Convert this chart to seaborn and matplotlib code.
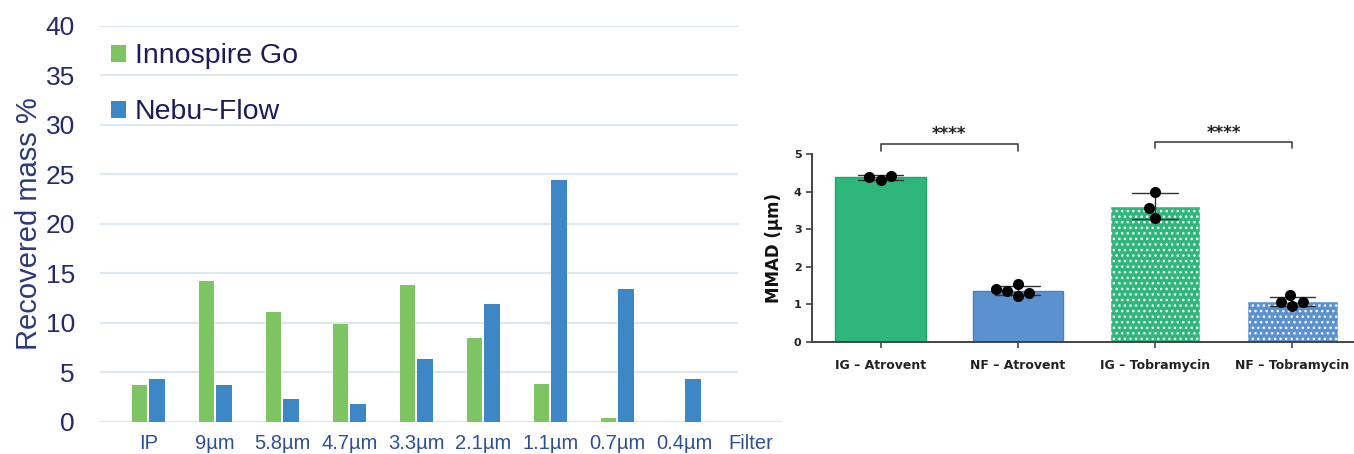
import numpy as np
import pandas as pd
import matplotlib
matplotlib.use("Agg")
import matplotlib.pyplot as plt
from matplotlib.patches import Rectangle
import seaborn as sns

# left panel: recovered mass per impactor stage
stages = ["IP", "9µm", "5.8µm", "4.7µm", "3.3µm", "2.1µm", "1.1µm", "0.7µm", "0.4µm", "Filter"]
innospire_go = [3.7, 14.2, 11.1, 9.9, 13.8, 8.5, 3.8, 0.4, 0.0, 0.0]
nebu_flow = [4.3, 3.7, 2.25, 1.75, 6.3, 11.9, 24.4, 13.4, 4.3, 0.0]
devices = ["Innospire Go", "Nebu~Flow"]
mass_ticks = [0, 5, 10, 15, 20, 25, 30, 35, 40]

# right panel: MMAD replicate measurements
groups = ["IG – Atrovent", "NF – Atrovent", "IG – Tobramycin", "NF – Tobramycin"]
ig_atrovent = [4.42, 4.31, 4.40]
nf_atrovent = [1.53, 1.35, 1.23, 1.30, 1.41]
ig_tobramycin = [3.98, 3.56, 3.31]
nf_tobramycin = [1.06, 0.96, 1.06, 1.25]
mmad_ticks = [0, 1, 2, 3, 4, 5]

sns.set_theme(style="white")
plt.rcParams["font.family"] = ["Liberation Sans", "DejaVu Sans"]
plt.rcParams["hatch.linewidth"] = 1.0

fig = plt.figure(figsize=(13.54, 4.54), dpi=100)
W, H = 1354, 454

def px_axes(x0, x1, y_top, y_bot):
    return fig.add_axes([x0 / W, 1 - y_bot / H, (x1 - x0) / W, (y_bot - y_top) / H])

# ---------------- left chart ----------------
ax1 = px_axes(100, 782, 25.7, 421.7)
df_mass = pd.DataFrame({
    "stage": stages * 2,
    "mass": innospire_go + nebu_flow,
    "device": [devices[0]] * len(stages) + [devices[1]] * len(stages),
})
sns.barplot(data=df_mass, x="stage", y="mass", hue="device", ax=ax1,
            palette=["#7dc462", "#3d87c6"], saturation=1, width=0.52, gap=0.1,
            edgecolor="none", linewidth=0)
ax1.set_ylim(0, 40)
ax1.set_xlim(-0.72, 9.46)
ax1.set_yticks(mass_ticks)
ax1.yaxis.grid(True, color="#dfe7ef", linewidth=1.6)
ax1.set_axisbelow(True)
sns.despine(ax=ax1, left=True, bottom=True)
ax1.tick_params(axis="y", labelsize=19, labelcolor="#252a6a", length=0, pad=18)
ax1.tick_params(axis="x", labelsize=14.5, labelcolor="#2d4f96", length=0, pad=9)
ax1.set_xlabel("")
ax1.set_ylabel("Recovered mass %", fontsize=21, color="#2c3a7a", labelpad=2)
leg = ax1.legend(loc="upper left", bbox_to_anchor=(-0.022, 1.02), frameon=False,
                 fontsize=20.5, handlelength=0.55, handleheight=0.55,
                 handletextpad=0.3, labelspacing=1.05)
for t in leg.get_texts():
    t.set_color("#1c1c5a")

# white backdrop of the pasted right figure
fig.patches.append(Rectangle((738 / W, 1 - 405 / H), 1 - 738 / W, 405 / H,
                             transform=fig.transFigure, facecolor="white",
                             edgecolor="none", zorder=1))

# ---------------- right chart ----------------
ax2 = px_axes(812, 1354, 154, 342)
ax2.set_zorder(2)
ax2.patch.set_alpha(0)
df_mmad = pd.DataFrame({
    "group": [groups[0]] * len(ig_atrovent) + [groups[1]] * len(nf_atrovent)
             + [groups[2]] * len(ig_tobramycin) + [groups[3]] * len(nf_tobramycin),
    "mmad": ig_atrovent + nf_atrovent + ig_tobramycin + nf_tobramycin,
})
green, blue = "#2eb67b", "#5b91cf"
sns.barplot(data=df_mmad, x="group", y="mmad", hue="group", ax=ax2,
            palette=[green, blue, green, blue], saturation=1, width=0.66,
            errorbar="sd", capsize=0.33,
            err_kws={"color": "#333333", "linewidth": 1.0}, legend=False)
edges = ["#23a56c", "#4a80c2", "white", "white"]
for bar, ec, hatch in zip(ax2.patches, edges, [None, None, "...", "..."]):
    bar.set_edgecolor(ec)
    bar.set_linewidth(1.0)
    if hatch:
        bar.set_hatch(hatch)
sns.swarmplot(data=df_mmad, x="group", y="mmad", ax=ax2, color="black", size=8,
              zorder=5)
ax2.set_ylim(0, 5)
ax2.set_xlim(-0.5, 3.45)
ax2.set_yticks(mmad_ticks)
sns.despine(ax=ax2)
for s in ["left", "bottom"]:
    ax2.spines[s].set_color("#444444")
    ax2.spines[s].set_linewidth(1.4)
ax2.tick_params(axis="both", direction="out", length=4, width=1.2, color="#444444",
                bottom=True, left=True)
ax2.tick_params(axis="x", pad=8)
for lab in ax2.get_xticklabels() + ax2.get_yticklabels():
    lab.set_fontfamily("DejaVu Sans")
    lab.set_fontweight("bold")
    lab.set_fontsize(8)
    lab.set_color("#222222")
for lab in ax2.get_xticklabels():
    lab.set_fontsize(9)
ax2.set_xlabel("")
ax2.set_ylabel("MMAD (µm)", fontsize=12, fontweight="bold", family="DejaVu Sans",
               color="#111111", labelpad=8)

# significance brackets
for (a, b), y0, drop in [((0, 1), 5.26, 0.18), ((2, 3), 5.31, 0.16)]:
    ax2.plot([a, a, b, b], [y0 - drop, y0, y0, y0 - drop], color="#444444",
             linewidth=1.2, clip_on=False)
    ax2.text((a + b) / 2, y0 + 0.02, "****", ha="center", va="bottom",
             fontsize=12, fontweight="bold", family="DejaVu Sans", color="#222222")

fig.savefig("out.png", dpi=100)
